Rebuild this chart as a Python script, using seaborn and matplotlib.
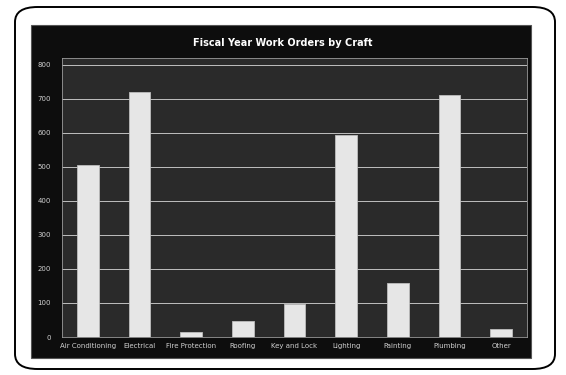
import matplotlib
matplotlib.use("Agg")
import matplotlib.pyplot as plt
from matplotlib.patches import FancyBboxPatch, Rectangle
import seaborn as sns
import pandas as pd

crafts = ["Air Conditioning", "Electrical", "Fire Protection", "Roofing",
          "Key and Lock", "Lighting", "Painting", "Plumbing", "Other"]
work_orders = [505, 720, 14, 46, 98, 595, 159, 711, 23]
y_ticks = [0, 100, 200, 300, 400, 500, 600, 700, 800]
title = "Fiscal Year Work Orders by Craft"

sns.set_theme(style="dark")
plt.rcParams["font.family"] = ["DejaVu Sans"]

W, H = 566, 375
fig = plt.figure(figsize=(W / 100, H / 100), dpi=100)
fig.patch.set_facecolor("white")

# rounded outer frame
frame = FancyBboxPatch((15 / W, 6 / H), 540 / W, 362 / H,
                       boxstyle="round,pad=0,rounding_size=0.04",
                       transform=fig.transFigure, facecolor="white",
                       edgecolor="black", linewidth=1.4, zorder=-3)
fig.patches.append(frame)

# dark chart panel
panel = Rectangle((31 / W, (H - 358) / H), 500 / W, 333 / H,
                  transform=fig.transFigure, facecolor="#0d0d0d",
                  edgecolor="#555555", linewidth=0.8, zorder=-2)
fig.patches.append(panel)

ax = fig.add_axes([62 / W, (H - 337) / H, 465 / W, 279 / H])
ax.set_zorder(1)
ax.set_facecolor("#2a2a2a")

df = pd.DataFrame({"Craft": crafts, "Work Orders": work_orders})
sns.barplot(data=df, x="Craft", y="Work Orders", ax=ax, color="#e6e6e6",
            width=0.42, edgecolor="#bdbdbd", linewidth=0.6, saturation=1)

ax.set_ylim(0, 820)
ax.set_yticks(y_ticks)
ax.set_yticklabels([str(v) for v in y_ticks], fontsize=5, color="#cfcfcf")
ax.tick_params(axis="x", labelsize=5, colors="#cfcfcf", length=0, pad=4)
ax.tick_params(axis="y", length=0, pad=8)
ax.grid(axis="y", color="#bfbfbf", linewidth=0.7)
ax.grid(axis="x", visible=False)
ax.set_axisbelow(True)
ax.set_xlabel("")
ax.set_ylabel("")
for s in ax.spines.values():
    s.set_color("#9a9a9a")
    s.set_linewidth(0.6)

fig.text(0.5, (H - 43) / H, title, ha="center", va="center",
         fontsize=7, fontweight="bold", color="white")

fig.savefig("out.png", dpi=100, facecolor=fig.get_facecolor())
